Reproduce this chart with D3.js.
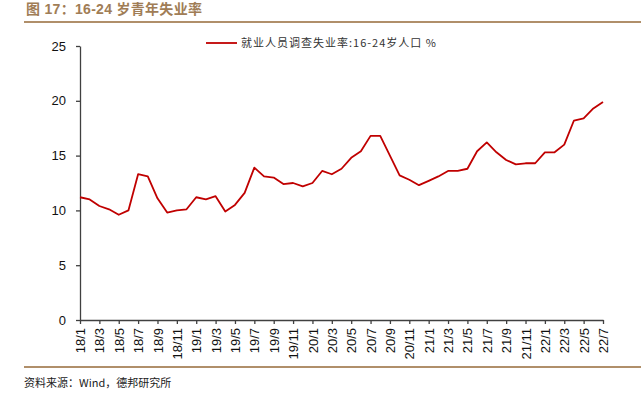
<!DOCTYPE html>
<html>
<head>
<meta charset="utf-8">
<script src="https://cdn.jsdelivr.net/npm/d3@7"></script>
<style>
  body { margin: 0; background: #fff; }
</style>
</head>
<body>
<script>
// months 18/1 .. 22/7
var months = [];
for (var yy = 18; yy <= 22; yy++) {
  for (var mm = 1; mm <= 12; mm++) {
    if (yy == 22 && mm > 7) break;
    months.push(yy + "/" + mm);
  }
}

var rates = [11.2, 11.0, 10.4, 10.1, 9.6, 10.0, 13.3, 13.1, 11.1, 9.8, 10.0, 10.1,
             11.2, 11.0, 11.3, 9.9, 10.5, 11.6, 13.9, 13.1, 13.0, 12.4, 12.5, 12.2,
             12.5, 13.6, 13.3, 13.8, 14.8, 15.4, 16.8, 16.8, 15.0, 13.2, 12.8, 12.3,
             12.7, 13.1, 13.6, 13.6, 13.8, 15.4, 16.2, 15.3, 14.6, 14.2, 14.3, 14.3,
             15.3, 15.3, 16.0, 18.2, 18.4, 19.3, 19.9];

var yTicks = [0, 5, 10, 15, 20, 25];
var seriesName = "就业人员调查失业率:16-24岁人口 %";
var titleText = "图 17：16-24 岁青年失业率";
var sourceText = "资料来源：Wind，德邦研究所";

var w = 641;
var h = 398;
var padL = 80, padR = 603, padT = 46, padB = 320;

var svg = d3.select("body")
      .append("svg")
      .attr("width", w)
      .attr("height", h);

// title + rules
svg.append("text")
   .text(titleText)
   .attr("x", 26)
   .attr("y", 14)
   .attr("font-family", "Arial, 'Noto Sans CJK SC', sans-serif")
   .attr("font-size", "14px")
   .attr("font-weight", "bold")
   .attr("letter-spacing", "0.3px")
   .attr("fill", "#A07D56");

svg.append("line")
   .attr("x1", 24).attr("x2", w)
   .attr("y1", 22).attr("y2", 22)
   .attr("stroke", "#B08F6A")
   .attr("stroke-width", 1.8);

svg.append("line")
   .attr("x1", 24).attr("x2", w)
   .attr("y1", 367).attr("y2", 367)
   .attr("stroke", "#B08F6A")
   .attr("stroke-width", 1.8);

svg.append("text")
   .text(sourceText)
   .attr("x", 24)
   .attr("y", 387)
   .attr("font-family", "'Noto Sans CJK SC', sans-serif")
   .attr("font-size", "11px")
   .attr("fill", "#222");

var x = d3.scalePoint()
      .domain(months)
      .range([padL, padR]);

var y = d3.scaleLinear()
      .domain([0, 25])
      .range([padB, padT]);

// y axis
var yAxis = svg.append("g")
      .attr("transform", "translate(" + padL + ",0)")
      .call(d3.axisLeft(y).tickValues(yTicks).tickSize(4).tickSizeOuter(0).tickPadding(10));
yAxis.selectAll("path, line").attr("stroke", "#404040").attr("stroke-width", 1.3);
yAxis.selectAll("text")
     .attr("font-family", "Arial, 'Liberation Sans', sans-serif")
     .attr("font-size", "13px")
     .attr("fill", "#111");

// x axis
var xLabels = months.filter(function(d, i) { return i % 2 == 0; });
var xAxis = svg.append("g")
      .attr("transform", "translate(0," + padB + ")")
      .call(d3.axisBottom(x).tickValues(xLabels).tickSize(4).tickSizeOuter(0));
xAxis.selectAll("path, line").attr("stroke", "#404040").attr("stroke-width", 1.3);
xAxis.selectAll("text")
     .attr("font-family", "Arial, 'Liberation Sans', sans-serif")
     .attr("font-size", "13px")
     .attr("fill", "#111")
     .attr("transform", "rotate(-90)")
     .attr("text-anchor", "end")
     .attr("dy", "0.35em")
     .attr("x", -8)
     .attr("y", 0);

// line
var line = d3.line()
      .x(function(d, i) { return x(months[i]); })
      .y(function(d) { return y(d); });

svg.append("path")
   .datum(rates)
   .attr("d", line)
   .attr("fill", "none")
   .attr("stroke", "#C00000")
   .attr("stroke-width", 1.8)
   .attr("stroke-linejoin", "round");

// legend
svg.append("line")
   .attr("x1", 206).attr("x2", 237)
   .attr("y1", 43).attr("y2", 43)
   .attr("stroke", "#C00000")
   .attr("stroke-width", 1.8);

svg.append("text")
   .text(seriesName)
   .attr("x", 241)
   .attr("y", 47)
   .attr("font-family", "'Noto Sans CJK SC', sans-serif")
   .attr("font-size", "11px")
   .attr("letter-spacing", "1px")
   .attr("fill", "#333");
</script>
</body>
</html>
